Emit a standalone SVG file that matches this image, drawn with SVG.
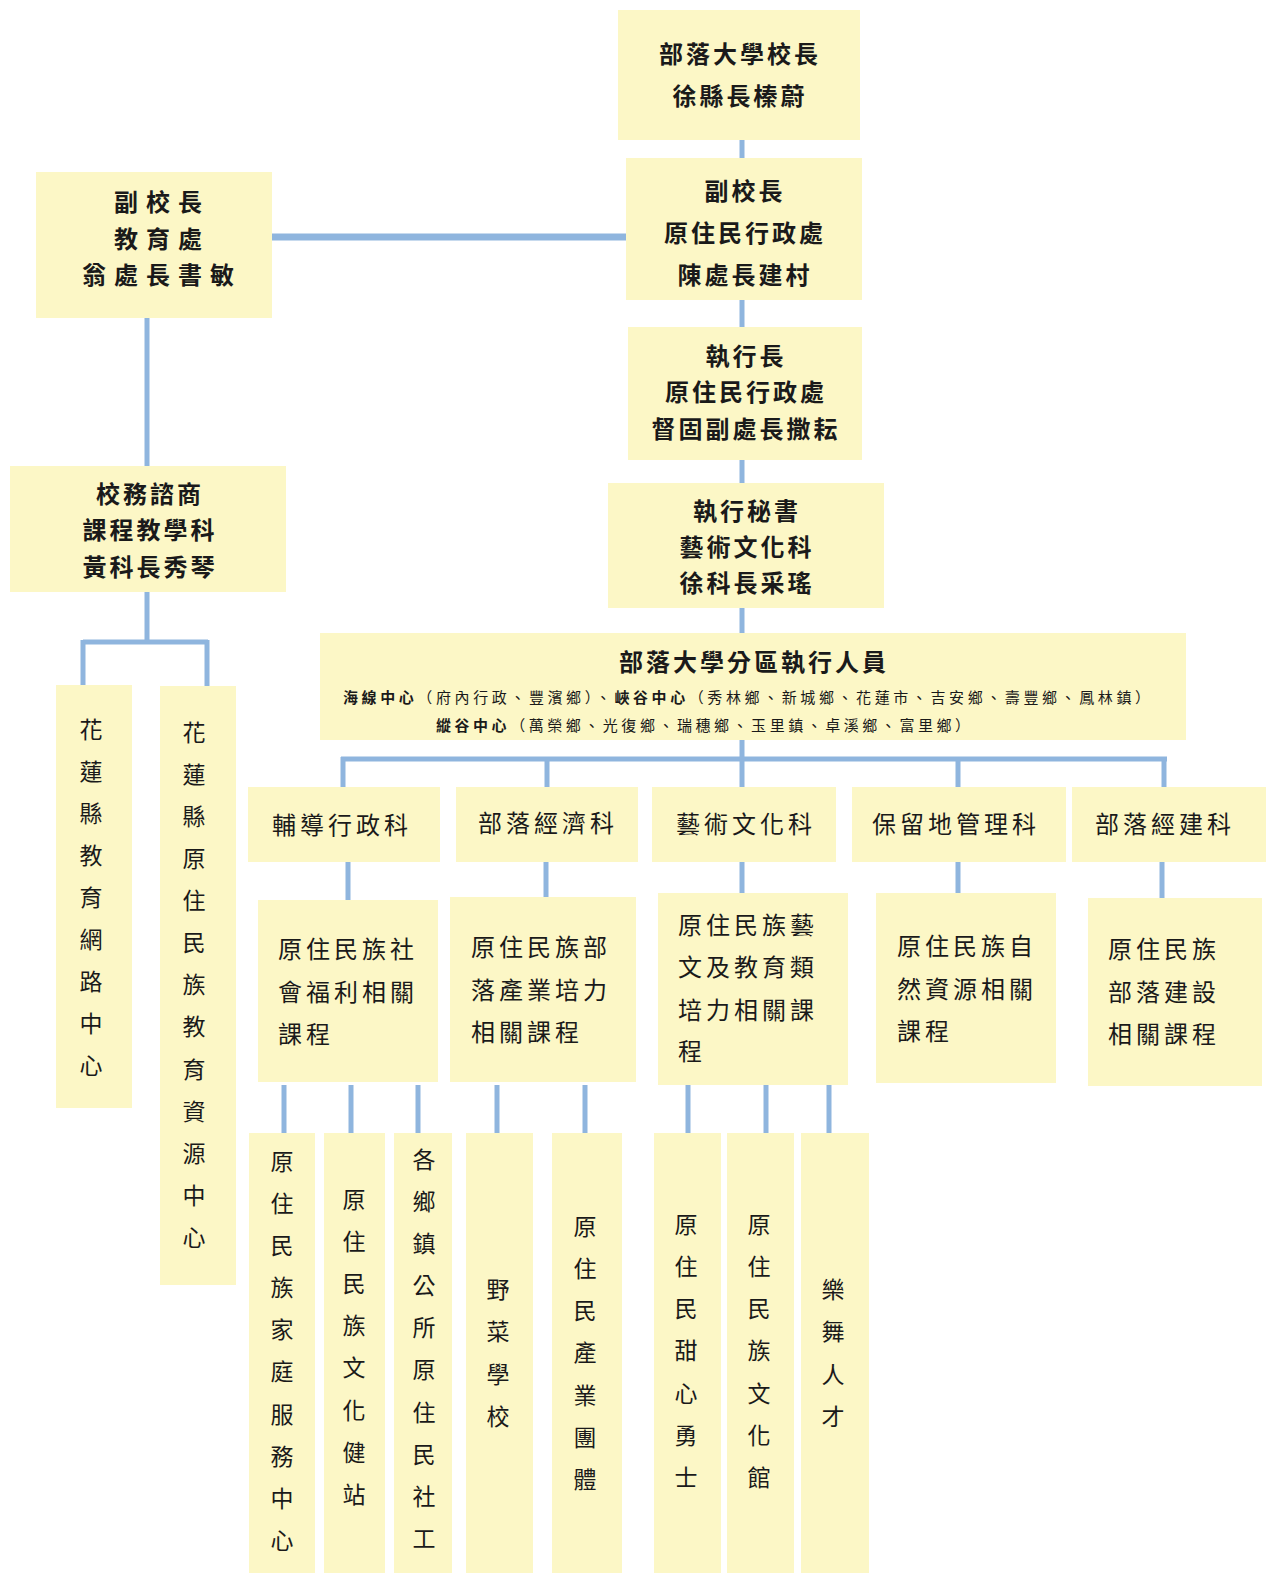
<svg xmlns="http://www.w3.org/2000/svg" width="1270" height="1573" viewBox="0 0 1270 1573">
<style>
.box{fill:#fcf7c6}
.c{stroke:#8fb5de;stroke-width:5;fill:none}
.t{font-family:"Noto Sans CJK TC","Noto Sans CJK SC",sans-serif;font-size:24px;fill:#1a1a1a}
.b{font-weight:bold}
.m{text-anchor:middle}
.s{font-family:"Noto Sans CJK TC","Noto Sans CJK SC",sans-serif;font-size:15px;fill:#1a1a1a}
.v{font-family:"Noto Sans CJK TC","Noto Sans CJK SC",sans-serif;font-size:23px;fill:#1a1a1a;text-anchor:middle}
</style>
<rect width="1270" height="1573" fill="#ffffff"/>
<g id="connectors">
<path class="c" d="M742 140V158M742 300V327M742 460V483M742 608V633"/>
<path class="c" style="stroke-width:7" d="M272 237H626"/>
<path class="c" d="M147 318V466M147 592V642M83 642H208M83 640V685M207 640V686"/>
<path class="c" d="M742 740V759M341 759H1167M343 757V787M547 757V787M742 757V787M958 757V787M1164 757V787"/>
<path class="c" d="M348 862V900M546 862V897M742 862V893M958 862V893M1162 862V898"/>
<path class="c" d="M284 1085V1133M351 1085V1133M418 1085V1133M497 1085V1133M585 1085V1133M688 1085V1133M766 1085V1133M829 1085V1133"/>
</g>
<g id="president"><rect class="box" x="618" y="10" width="242" height="130"/>
<text class="t b m" x="740" y="63" letter-spacing="3">部落大學校長</text>
<text class="t b m" x="740" y="105" letter-spacing="3">徐縣長榛蔚</text></g>
<g id="vp-right"><rect class="box" x="626" y="158" width="236" height="142"/>
<text class="t b m" x="745" y="200" letter-spacing="3">副校長</text>
<text class="t b m" x="745" y="242" letter-spacing="3">原住民行政處</text>
<text class="t b m" x="745" y="284" letter-spacing="3">陳處長建村</text></g>
<g id="vp-left"><rect class="box" x="36" y="172" width="236" height="146"/>
<text class="t b m" x="162" y="211" letter-spacing="8">副校長</text>
<text class="t b m" x="162" y="248" letter-spacing="8">教育處</text>
<text class="t b m" x="162" y="284" letter-spacing="8">翁處長書敏</text></g>
<g id="ceo"><rect class="box" x="628" y="327" width="234" height="133"/>
<text class="t b m" x="746" y="365" letter-spacing="3">執行長</text>
<text class="t b m" x="746" y="401" letter-spacing="3">原住民行政處</text>
<text class="t b m" x="746" y="438" letter-spacing="3">督固副處長撒耘</text></g>
<g id="secretary"><rect class="box" x="608" y="483" width="276" height="125"/>
<text class="t b m" x="747" y="520" letter-spacing="3">執行秘書</text>
<text class="t b m" x="747" y="556" letter-spacing="3">藝術文化科</text>
<text class="t b m" x="747" y="592" letter-spacing="3">徐科長采瑤</text></g>
<g id="consult"><rect class="box" x="10" y="466" width="276" height="126"/>
<text class="t b m" x="150" y="503" letter-spacing="3">校務諮商</text>
<text class="t b m" x="150" y="539" letter-spacing="3">課程教學科</text>
<text class="t b m" x="150" y="576" letter-spacing="3">黃科長秀琴</text></g>
<g id="district"><rect class="box" x="320" y="633" width="866" height="107"/>
<text class="t b m" x="754" y="671" letter-spacing="3">部落大學分區執行人員</text>
<text class="s" x="343" y="703" textLength="807" lengthAdjust="spacing"><tspan font-weight="bold">海線中心</tspan>（府內行政、豐濱鄉）、<tspan font-weight="bold">峽谷中心</tspan>（秀林鄉、新城鄉、花蓮市、吉安鄉、壽豐鄉、鳳林鎮）</text>
<text class="s" x="436" y="731" textLength="534" lengthAdjust="spacing"><tspan font-weight="bold">縱谷中心</tspan>（萬榮鄉、光復鄉、瑞穗鄉、玉里鎮、卓溪鄉、富里鄉）</text></g>
<g id="dept1"><rect class="box" x="248" y="787" width="192" height="75"/><text class="t" x="272" y="834" letter-spacing="4">輔導行政科</text></g>
<g id="dept2"><rect class="box" x="456" y="787" width="182" height="75"/><text class="t" x="478" y="832" letter-spacing="4">部落經濟科</text></g>
<g id="dept3"><rect class="box" x="652" y="787" width="184" height="75"/><text class="t" x="676" y="833" letter-spacing="4">藝術文化科</text></g>
<g id="dept4"><rect class="box" x="852" y="787" width="214" height="75"/><text class="t" x="872" y="833" letter-spacing="4">保留地管理科</text></g>
<g id="dept5"><rect class="box" x="1072" y="787" width="194" height="75"/><text class="t" x="1095" y="833" letter-spacing="4">部落經建科</text></g>
<g id="course1"><rect class="box" x="258" y="900" width="180" height="182"/>
<text class="t" x="278" y="958" letter-spacing="4">原住民族社</text>
<text class="t" x="278" y="1001" letter-spacing="4">會福利相關</text>
<text class="t" x="278" y="1043" letter-spacing="4">課程</text></g>
<g id="course2"><rect class="box" x="450" y="897" width="186" height="185"/>
<text class="t" x="471" y="956" letter-spacing="4">原住民族部</text>
<text class="t" x="471" y="999" letter-spacing="4">落產業培力</text>
<text class="t" x="471" y="1041" letter-spacing="4">相關課程</text></g>
<g id="course3"><rect class="box" x="658" y="893" width="190" height="192"/>
<text class="t" x="678" y="934" letter-spacing="4">原住民族藝</text>
<text class="t" x="678" y="976" letter-spacing="4">文及教育類</text>
<text class="t" x="678" y="1019" letter-spacing="4">培力相關課</text>
<text class="t" x="678" y="1060" letter-spacing="4">程</text></g>
<g id="course4"><rect class="box" x="876" y="893" width="180" height="190"/>
<text class="t" x="897" y="955" letter-spacing="4">原住民族自</text>
<text class="t" x="897" y="998" letter-spacing="4">然資源相關</text>
<text class="t" x="897" y="1040" letter-spacing="4">課程</text></g>
<g id="course5"><rect class="box" x="1088" y="898" width="174" height="188"/>
<text class="t" x="1108" y="958" letter-spacing="4">原住民族</text>
<text class="t" x="1108" y="1001" letter-spacing="4">部落建設</text>
<text class="t" x="1108" y="1043" letter-spacing="4">相關課程</text></g>
<g id="left1"><rect class="box" x="56" y="685" width="76" height="423"/>
<text class="v" x="91 91 91 91 91 91 91 91 91" y="738 780 822 864 906 948 990 1032 1074">花蓮縣教育網路中心</text></g>
<g id="left2"><rect class="box" x="160" y="686" width="76" height="599"/>
<text class="v" x="194 194 194 194 194 194 194 194 194 194 194 194 194" y="741 783 825 867 909 951 993 1035 1078 1120 1162 1204 1246">花蓮縣原住民族教育資源中心</text></g>
<g id="b1"><rect class="box" x="249" y="1133" width="66" height="440"/>
<text class="v" x="282 282 282 282 282 282 282 282 282 282" y="1170 1212 1254 1296 1338 1380 1423 1465 1507 1549">原住民族家庭服務中心</text></g>
<g id="b2"><rect class="box" x="324" y="1133" width="61" height="440"/>
<text class="v" x="354 354 354 354 354 354 354 354" y="1208 1250 1292 1334 1376 1419 1461 1503">原住民族文化健站</text></g>
<g id="b3"><rect class="box" x="394" y="1133" width="58" height="440"/>
<text class="v" x="424 424 424 424 424 424 424 424 424 424" y="1168 1210 1252 1294 1336 1378 1421 1463 1505 1547">各鄉鎮公所原住民社工</text></g>
<g id="b4"><rect class="box" x="466" y="1133" width="67" height="440"/>
<text class="v" x="498 498 498 498" y="1298 1340 1383 1425">野菜學校</text></g>
<g id="b5"><rect class="box" x="552" y="1133" width="70" height="440"/>
<text class="v" x="585 585 585 585 585 585 585" y="1235 1277 1319 1361 1404 1446 1488">原住民產業團體</text></g>
<g id="b6"><rect class="box" x="654" y="1133" width="67" height="440"/>
<text class="v" x="686 686 686 686 686 686 686" y="1233 1275 1317 1359 1402 1444 1486">原住民甜心勇士</text></g>
<g id="b7"><rect class="box" x="727" y="1133" width="67" height="440"/>
<text class="v" x="759 759 759 759 759 759 759" y="1233 1275 1317 1359 1402 1444 1486">原住民族文化館</text></g>
<g id="b8"><rect class="box" x="801" y="1133" width="68" height="440"/>
<text class="v" x="833 833 833 833" y="1298 1340 1383 1425">樂舞人才</text></g>
</svg>
